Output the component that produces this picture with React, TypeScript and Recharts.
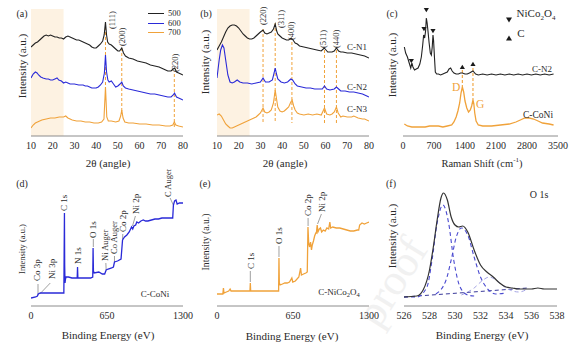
import React from "react";
import { LineChart, Line, XAxis, YAxis, ReferenceArea, ReferenceLine, ReferenceDot } from "recharts";

const FONT = '"Liberation Serif", "DejaVu Serif", serif';
const FRAME = "#8c8c8c";
const TEXT = "#2a2a2a";
const BLACK = "#222";
const BLUE = "#2a2ad8";
const ORANGE = "#f0a23a";
const SHADE = "#fdf2e2";

// (a) XRD, 2θ vs intensity (a.u.)
const xrd500 = [[10,88],[11,90],[12,92],[13,93],[14,95],[15,97],[16,99],[17,100],[18,99],[19,100],[20,99],[21,98],[22,98],[23,97],[24,97],[25,96],[26,98],[27,99],[28,98],[29,97],[30,96],[31,95],[32,95],[33,94],[34,93],[35,92],[36,91],[37,90],[38,88],[39,87],[40,87],[41,89],[42,91],[43,94],[43.7,100],[44.3,113],[44.8,100],[45.3,93],[46,91],[47,90],[48,88],[49,86],[50,84],[50.8,84],[51.8,87],[52.6,82],[53.5,79],[55,77],[57,76],[59,74],[61,73],[63,72],[65,70],[67,69],[69,68],[71,66],[73,64],[74.5,64],[75.5,66],[76.2,67],[77,63],[78,62],[79,61],[80,60]];
const xrd600 = [[10,57],[11,61],[12,63],[12.8,62],[13.5,60],[14.5,58],[15.5,57],[17,56],[18,56],[19,55],[20,55],[21,56],[22,57],[22.8,55],[24,54],[25,52],[26,53],[27,52],[28,51],[30,51],[32,50],[34,50],[35,49],[36,49],[37,48],[38,47],[39,47],[40,47],[41,48],[42,50],[43,53],[43.8,62],[44.3,80],[44.8,63],[45.4,55],[46,53],[47,54],[48,51],[49,48],[50,49],[51,51],[51.8,53],[52.5,49],[53.5,47],[55,46],[57,45],[59,44],[61,43],[63,42],[65,41],[67,41],[69,40],[71,39],[73,38],[74.5,38],[75.5,40],[76.1,42],[77,38],[78,37],[79,36],[80,35]];
const xrd700 = [[10,7],[11,10],[12,12],[13,13],[14,14],[15,15],[17,16],[19,17],[21,17],[23,18],[25,18],[26,19],[27,17],[29,15],[31,14],[33,14],[35,13],[37,13],[39,12],[41,12],[42.5,13],[43.6,16],[44.3,48],[44.9,18],[45.6,14],[47,14],[49,13],[50.5,14],[51.3,19],[51.8,25],[52.4,17],[53.2,13],[55,12],[57,12],[60,11],[63,11],[66,10],[69,10],[72,9],[74,9],[75.3,10],[76,13],[76.7,10],[78,9],[80,8]];
const xrdATicks = [10, 20, 30, 40, 50, 60, 70, 80];
const xrdAPeaks = [
  { x: 44.3, top: 113, bottom: 48, lx: 47.3, ly: 106, t: "(111)" },
  { x: 51.8, top: 87, bottom: 22, lx: 51.8, ly: 89, t: "(200)" },
  { x: 76, top: 61, bottom: 8, lx: 76.3, ly: 63, t: "(220)" },
];

// (b) XRD of C-N1 / C-N2 / C-N3
const cn1 = [[10,85],[11,89],[12,93],[13,98],[14,103],[15,107],[16,109],[17,110],[18,110],[19,109],[20,107],[21,104],[22,101],[23,99],[24,97],[25,96],[26,96],[27,97],[28,99],[29,101],[30,103],[31.2,105],[32,102],[33,101],[34,102],[35,103],[36,106],[36.8,111],[37.5,104],[38,101],[39,99],[40,97],[41,96],[42,95],[43,95],[44.2,97],[45,95],[46,92],[47,91],[48,89],[50,88],[52,87],[54,86],[56,85],[58,84],[59.4,87],[60.2,85],[61,83],[62,83],[63,83],[64,84],[65,87],[66,84],[67,83],[68,83],[70,82],[72,82],[74,81],[76,80],[78,79],[80,77]];
const cn2 = [[10,57],[10.5,66],[11,75],[11.7,85],[12.5,90],[13.2,87],[14,75],[15,60],[16,53],[17,52],[18,53],[19.3,55],[20.5,53],[22,52],[24,52],[26,51],[28,52],[30,53],[31.2,57],[32.3,53],[34,53],[35.5,55],[36.3,62],[36.8,67],[37.4,61],[38,56],[39.5,53],[41,52],[42.5,53],[44,56],[44.8,55],[46,51],[47,49],[49,48],[51,47],[53,47],[55,46],[57,46],[58.5,46],[59.5,49],[60.5,46],[62,45],[64,46],[65,48],[66,46],[67,44],[69,44],[71,43],[73,43],[75,42],[77,41],[79,39],[80,38]];
const cn3 = [[10,20],[11,21],[12,19],[13,15],[14,11],[15,9],[16,7],[17,7],[18,8],[19,9],[20,10],[21,11],[22,12],[23,13],[24,14],[25,15],[26,16],[27,17],[28,18],[29,20],[30,22],[31.2,27],[32,23],[33,22],[34,23],[35,25],[36,32],[36.8,45],[37.5,35],[38,28],[39,24],[40,23],[41,24],[42,26],[43,28],[44,33],[44.6,35],[45.3,29],[46,25],[47,22],[48,21],[50,20],[52,21],[54,20],[56,21],[58,20],[59.5,27],[60.5,21],[62,20],[63,21],[64,23],[65,28],[65.8,22],[67,18],[68,19],[70,18],[72,18],[73,19],[75,17],[77,16],[78,16],[80,14]];
const xrdBPeaks = [
  { x: 31.2, top: 106, bottom: 12, lx: 31.2, ly: 110, t: "(220)" },
  { x: 36.8, top: 112, bottom: 12, lx: 39.6, ly: 107, t: "(311)" },
  { x: 44.5, top: 93, bottom: 12, lx: 44.3, ly: 95, t: "(400)" },
  { x: 59.5, top: 85, bottom: 12, lx: 58.8, ly: 87, t: "(511)" },
  { x: 65, top: 85, bottom: 12, lx: 64.8, ly: 87, t: "(440)" },
];
const xrdBNames = [
  { x: 74.5, y: 88, t: "C-N1" },
  { x: 74.5, y: 48, t: "C-N2" },
  { x: 74.5, y: 26, t: "C-N3" },
];

// (c) Raman
const ramanN2 = [[30,88],[60,82],[100,78],[140,72],[175,67],[200,72],[225,68],[260,65],[300,66],[340,67],[380,71],[414,78],[445,90],[466,100],[489,97],[510,104],[527,117],[545,112],[564,104],[590,92],[617,82],[640,80],[660,88],[677,100],[690,95],[710,78],[730,63],[760,61],[800,61],[850,60],[900,61],[950,62],[1000,63],[1040,66],[1076,67],[1110,64],[1150,62],[1200,61],[1250,61],[1300,62],[1340,62],[1400,61],[1450,61],[1500,62],[1580,64],[1640,61],[1700,60],[1800,61],[1900,60],[2000,61],[2100,60],[2200,61],[2300,60],[2400,61],[2500,60],[2600,61],[2700,60],[2800,61],[2900,60],[3000,61],[3100,60],[3200,61],[3300,60],[3400,61]];
const ramanCoNi = [[30,11],[100,9],[200,8],[300,8],[400,8],[500,8],[600,9],[700,9],[800,9],[900,8],[1000,9],[1100,10],[1150,13],[1200,18],[1240,24],[1280,32],[1310,42],[1340,48],[1370,43],[1400,34],[1440,27],[1480,23],[1520,25],[1550,29],[1580,35],[1600,31],[1620,22],[1650,14],[1700,10],[1800,9],[1900,9],[2000,9],[2200,10],[2400,11],[2550,13],[2650,15],[2750,17],[2850,17],[2950,16],[3050,14],[3150,12],[3300,11],[3400,10]];
const ramanTicks = [0, 700, 1400, 2100, 2800, 3500];
const spinelMarks = [[188, 74], [474, 106], [527, 125], [677, 104]];
const carbonMarks = [[1340, 68], [1580, 71]];
const ramanGuides = [{ x: 1340, top: 65, bottom: 48 }, { x: 1580, top: 67, bottom: 35 }];

// (d) XPS survey C-CoNi
const xpsCoNi = [[0,7],[40,8],[55,9],[62,11],[80,12],[110,12],[150,12],[200,12],[250,12],[281,12],[284,60],[286,92],[288,40],[291,22],[295,26],[300,28],[320,28],[350,27],[380,27],[395,27],[398,38],[401,27],[430,27],[470,27],[510,27],[528,28],[531,57],[534,34],[540,32],[580,33],[610,31],[630,31],[643,35],[660,36],[690,37],[705,38],[714,43],[740,44],[770,46],[783,65],[800,68],[820,70],[840,73],[860,78],[870,76],[880,79],[895,80],[905,83],[920,82],[940,84],[960,85],[980,84],[1000,84],[1030,85],[1060,86],[1090,86],[1120,87],[1150,87],[1180,87],[1212,87],[1218,100],[1228,104],[1240,105],[1250,101],[1270,102],[1290,102],[1300,102]];
const xpsDTags = [
  { x: 50, y: 24, t: "Co 3p" },
  { x: 178, y: 26, t: "Ni 3p" },
  { x: 286, y: 94, t: "C 1s" },
  { x: 398, y: 41, t: "N 1s" },
  { x: 533, y: 67, t: "O 1s" },
  { x: 629, y: 44, t: "Ni Auger" },
  { x: 709, y: 51, t: "Co Auger" },
  { x: 788, y: 73, t: "Co 2p" },
  { x: 900, y: 91, t: "Ni 2p" },
  { x: 1170, y: 108, t: "C Auger" },
];
const xpsDLeaders = [
  [[60, 21], [60, 10]],
  [[165, 22], [75, 11]],
  [[533, 66], [533, 58]],
  [[640, 42], [643, 35]],
  [[714, 49], [714, 43]],
  [[785, 71], [783, 66]],
  [[893, 89], [868, 79]],
  [[1190, 107], [1217, 100]],
];

// (e) XPS survey C-NiCo2O4
const xpsNiCo = [[0,11],[30,11],[50,11],[55,17],[60,12],[80,13],[100,14],[112,16],[120,14],[150,14],[200,14],[250,14],[282,14],[285,22],[288,14],[350,14],[400,14],[450,14],[500,14],[527,14],[530,47],[533,22],[540,20],[560,21],[580,22],[600,22],[620,23],[640,27],[648,23],[670,24],[700,28],[715,37],[722,30],[740,31],[760,32],[772,33],[778,78],[784,62],[792,58],[800,63],[808,55],[815,60],[825,64],[835,69],[845,72],[850,72],[857,80],[863,73],[875,76],[885,77],[895,73],[910,75],[925,74],[940,77],[955,76],[965,83],[972,77],[990,78],[1020,77],[1050,77],[1080,76],[1110,75],[1140,74],[1170,74],[1200,75],[1212,75],[1220,80],[1240,82],[1260,81],[1280,82],[1300,83]];
const xpsTicks = [0, 650, 1300];
const xpsETags = [
  { x: 287, y: 36, t: "C 1s" },
  { x: 530, y: 61, t: "O 1s" },
  { x: 779, y: 89, t: "Co 2p" },
  { x: 900, y: 93, t: "Ni 2p" },
];
const xpsELeaders = [
  [[285, 34], [285, 23]],
  [[530, 59], [530, 48]],
  [[779, 87], [779, 79]],
  [[893, 91], [860, 81]],
];

// (f) O 1s high resolution
const o1sEnv = [[526,8],[527,9],[527.5,15],[528,35],[528.3,58],[528.6,85],[528.9,107],[529.1,112],[529.4,105],[529.7,88],[530,80],[530.3,78],[530.6,79],[531,73],[531.5,55],[532,40],[532.5,33],[533,28],[533.5,22],[534,18],[534.5,17],[535,16],[536,16],[536.5,17],[537,16],[538,16]];
const o1sP1 = [[526,8],[527,8],[527.8,18],[528.2,45],[528.6,82],[529.05,100],[529.5,82],[529.9,45],[530.4,18],[531,10],[531.5,9]];
const o1sP2 = [[528.5,11],[529.3,25],[529.7,45],[530.1,68],[530.5,77],[531,70],[531.5,48],[532,28],[532.5,17],[533.2,11],[534,12]];
const o1sP3 = [[530.5,10],[531.5,17],[532.2,25],[532.7,28],[533.2,25],[534,17],[535,13],[535.7,16]];
const o1sBase = [[526,8],[535.7,17]];
const o1sTicks = [526, 528, 530, 532, 534, 536, 538];

const pts = (a: number[][]) => a.map(([x, y]) => ({ x, y }));

function Tag(props: any) {
  const { viewBox, txt, size = 9, color = TEXT, rot = -90, anchor = "start" } = props;
  const x = viewBox.x + (viewBox.width || 0) / 2;
  const y = viewBox.y + (viewBox.height || 0) / 2;
  return (
    <text
      x={x}
      y={y}
      transform={rot ? `rotate(${rot} ${x} ${y})` : undefined}
      textAnchor={anchor}
      dominantBaseline="central"
      fontSize={size}
      fontFamily={FONT}
      fill={color}
    >
      {txt}
    </text>
  );
}

const tri = (down: boolean) => (p: any) => {
  const { cx, cy } = p;
  const d = down
    ? `M${cx - 2.6},${cy - 2} L${cx + 2.6},${cy - 2} L${cx},${cy + 2.2} Z`
    : `M${cx - 2.6},${cy + 2} L${cx + 2.6},${cy + 2} L${cx},${cy - 2.2} Z`;
  return <path d={d} fill="#1a1a1a" />;
};

function series(key: string, data: number[][], color: string, w = 1.1, dash?: string, type: any = "linear") {
  return (
    <Line
      key={key}
      data={pts(data)}
      dataKey="y"
      type={type}
      stroke={color}
      strokeWidth={w}
      strokeDasharray={dash}
      dot={false}
      activeDot={false}
      isAnimationActive={false}
    />
  );
}

function tag(key: string, x: number, y: number, txt: any, opts: any = {}) {
  return (
    <ReferenceDot
      key={key}
      x={x}
      y={y}
      r={0}
      fill="none"
      stroke="none"
      ifOverflow="visible"
      label={<Tag txt={txt} {...opts} />}
    />
  );
}

function seg(key: string, a: number[], b: number[], color = "#777", dash?: string, w = 0.7) {
  return (
    <ReferenceLine
      key={key}
      segment={[{ x: a[0], y: a[1] }, { x: b[0], y: b[1] }]}
      stroke={color}
      strokeWidth={w}
      strokeDasharray={dash}
      ifOverflow="visible"
    />
  );
}

const ML = 22, MR = 22, MT = 10, AXH = 26;

function Panel({ fl, ft, w, h, domain, ticks, children }: any) {
  const tickStyle = { fill: TEXT, fontSize: 10, fontFamily: FONT };
  return (
    <div style={{ position: "absolute", left: fl - ML, top: ft - MT }}>
      <LineChart width={w + ML + MR} height={h + MT + AXH} margin={{ top: MT, right: MR, bottom: 0, left: ML }}>
        <XAxis
          dataKey="x"
          type="number"
          domain={domain}
          ticks={ticks}
          interval={0}
          allowDataOverflow
          height={AXH}
          tickLine={false}
          tickSize={3}
          tickMargin={3}
          axisLine={{ stroke: FRAME }}
          tick={tickStyle}
        />
        <XAxis xAxisId="top" orientation="top" type="number" domain={domain} height={0} tick={false} tickLine={false} axisLine={{ stroke: FRAME }} />
        <YAxis type="number" domain={[-1, 126]} allowDataOverflow width={0} tick={false} tickLine={false} axisLine={{ stroke: FRAME }} />
        <YAxis yAxisId="right" orientation="right" type="number" domain={[-1, 126]} width={0} tick={false} tickLine={false} axisLine={{ stroke: FRAME }} />
        {children}
      </LineChart>
    </div>
  );
}

function Txt({ x, y, size = 11, rot = 0, children, color = TEXT, weight = 400 }: any) {
  return (
    <div
      style={{
        position: "absolute",
        left: x,
        top: y,
        transform: `translate(-50%, -50%)${rot ? ` rotate(${rot}deg)` : ""}`,
        fontFamily: FONT,
        fontSize: size,
        color,
        fontWeight: weight,
        whiteSpace: "nowrap",
        lineHeight: 1,
      }}
    >
      {children}
    </div>
  );
}

function LegendLine({ x, y, color, label }: any) {
  return (
    <div style={{ position: "absolute", left: x, top: y - 5, display: "flex", alignItems: "center", fontFamily: FONT, fontSize: 8.5, color: TEXT, lineHeight: 1 }}>
      <span style={{ display: "inline-block", width: 16, height: 1.5, background: color, marginRight: 4 }} />
      <span>{label}</span>
    </div>
  );
}

export default function App() {
  return (
    <div style={{ position: "absolute", left: 0, top: 0, width: 576, height: 351, background: "#fff", overflow: "hidden" }}>
      {/* watermark */}
      <Txt x={392} y={282} size={44} rot={-58} color="#f1f1f1">proof</Txt>

      {/* (a) */}
      <Panel fl={31} ft={9} w={152} h={127} domain={[10, 80]} ticks={xrdATicks}>
        <ReferenceArea x1={10} x2={25} y1={-1} y2={126} fill={SHADE} fillOpacity={1} stroke="none" />
        {xrdAPeaks.map((p, i) => seg(`ag${i}`, [p.x, p.top], [p.x, p.bottom], ORANGE, "3 2", 1))}
        {series("a1", xrd500, BLACK)}
        {series("a2", xrd600, BLUE)}
        {series("a3", xrd700, ORANGE)}
        {xrdAPeaks.map((p, i) => tag(`at${i}`, p.lx, p.ly, p.t, { size: 8.5 }))}
      </Panel>

      {/* (b) */}
      <Panel fl={217} ft={9} w={152} h={127} domain={[10, 80]} ticks={xrdATicks}>
        <ReferenceArea x1={10} x2={25} y1={-1} y2={126} fill={SHADE} fillOpacity={1} stroke="none" />
        {xrdBPeaks.map((p, i) => seg(`bg${i}`, [p.x, p.top], [p.x, p.bottom], ORANGE, "3 2", 1))}
        {series("b1", cn1, BLACK)}
        {series("b2", cn2, BLUE)}
        {series("b3", cn3, ORANGE)}
        {xrdBPeaks.map((p, i) => tag(`bt${i}`, p.lx, p.ly, p.t, { size: 8.5 }))}
        {xrdBNames.map((p, i) => tag(`bn${i}`, p.x, p.y, p.t, { size: 9, rot: 0, anchor: "middle" }))}
      </Panel>

      {/* (c) */}
      <Panel fl={403} ft={9} w={155} h={127} domain={[0, 3500]} ticks={ramanTicks}>
        {ramanGuides.map((p, i) => seg(`cg${i}`, [p.x, p.top], [p.x, p.bottom], ORANGE, "3 2", 1.1))}
        {series("c1", ramanN2, BLACK)}
        {series("c2", ramanCoNi, ORANGE, 1.3)}
        {spinelMarks.map((m, i) => (
          <ReferenceDot key={`sm${i}`} x={m[0]} y={m[1]} r={2} ifOverflow="visible" shape={tri(true)} />
        ))}
        {carbonMarks.map((m, i) => (
          <ReferenceDot key={`cm${i}`} x={m[0]} y={m[1]} r={2} ifOverflow="visible" shape={tri(false)} />
        ))}
        {tag("cn1", 3140, 66, "C-N2", { size: 9, rot: 0, anchor: "middle" })}
        {tag("cn2", 3050, 20, "C-CoNi", { size: 9.5, rot: 0, anchor: "middle" })}
        {tag("cD", 1200, 48, "D", { size: 11.5, rot: 0, anchor: "middle", color: ORANGE })}
        {tag("cG", 1740, 31, "G", { size: 11.5, rot: 0, anchor: "middle", color: ORANGE })}
      </Panel>
      <div style={{ position: "absolute", left: 505, top: 10, width: 8, height: 8 }}>
        <svg width={8} height={8}><path d="M1,1.5 L7,1.5 L4,6.5 Z" fill="#1a1a1a" /></svg>
      </div>
      <Txt x={536} y={15} size={11}>NiCo<sub style={{ fontSize: 7 }}>2</sub>O<sub style={{ fontSize: 7 }}>4</sub></Txt>
      <div style={{ position: "absolute", left: 505, top: 28, width: 8, height: 8 }}>
        <svg width={8} height={8}><path d="M1,6.5 L7,6.5 L4,1.5 Z" fill="#1a1a1a" /></svg>
      </div>
      <Txt x={521} y={33} size={11}>C</Txt>

      {/* (d) */}
      <Panel fl={31} ft={179} w={152} h={127} domain={[0, 1300]} ticks={xpsTicks}>
        {xpsDLeaders.map((l, i) => seg(`dl${i}`, l[0], l[1]))}
        {series("d1", xpsCoNi, BLUE, 1.3)}
        {xpsDTags.map((p, i) => tag(`dt${i}`, p.x, p.y, p.t, { size: p.t.includes("Auger") ? 8.5 : 9 }))}
        {tag("dn", 1060, 11, "C-CoNi", { size: 9, rot: 0, anchor: "middle" })}
      </Panel>

      {/* (e) */}
      <Panel fl={217} ft={179} w={152} h={127} domain={[0, 1300]} ticks={xpsTicks}>
        {xpsELeaders.map((l, i) => seg(`el${i}`, l[0], l[1]))}
        {series("e1", xpsNiCo, ORANGE, 1.3)}
        {xpsETags.map((p, i) => tag(`et${i}`, p.x, p.y, p.t, { size: 9 }))}
        {tag("en", 1043, 13, (
          <>
            C-NiCo<tspan fontSize={6.5} dy={2}>2</tspan>
            <tspan dy={-2}>O</tspan>
            <tspan fontSize={6.5} dy={2}>4</tspan>
          </>
        ), { size: 9, rot: 0, anchor: "middle" })}
      </Panel>

      {/* (f) */}
      <Panel fl={404} ft={179} w={153} h={127} domain={[526, 538]} ticks={o1sTicks}>
        {series("f0", o1sBase, "#3a3a9a", 1, "4 3")}
        {series("f3", o1sP3, "#9a9ae0", 0.9, "4 3", "monotone")}
        {series("f2", o1sP2, "#4a4ad0", 1.1, "4 3", "monotone")}
        {series("f1", o1sP1, "#4a4ad0", 1.1, "4 3", "monotone")}
        {series("f4", o1sEnv, "#333", 1.2, undefined, "monotone")}
        {tag("fo", 536.6, 111, "O 1s", { size: 10, rot: 0, anchor: "middle" })}
      </Panel>

      {/* panel letters */}
      <Txt x={22} y={14} size={10}>(a)</Txt>
      <Txt x={206} y={14} size={10}>(b)</Txt>
      <Txt x={392} y={14} size={10}>(c)</Txt>
      <Txt x={22} y={184} size={10}>(d)</Txt>
      <Txt x={205} y={184} size={10}>(e)</Txt>
      <Txt x={391} y={184} size={10}>(f)</Txt>

      {/* y titles */}
      <Txt x={22} y={66} size={11} rot={-90}>Intensity (a.u.)</Txt>
      <Txt x={205} y={62} size={11} rot={-90}>Intensity (a.u.)</Txt>
      <Txt x={392} y={65} size={11} rot={-90}>Intensity (a.u.)</Txt>
      <Txt x={22} y={249} size={8.5} rot={-90}>Intensity (a.u.)</Txt>
      <Txt x={206} y={242} size={9.7} rot={-90}>Intensity (a.u.)</Txt>
      <Txt x={392} y={236} size={11} rot={-90}>Intensity (a.u.)</Txt>

      {/* x titles */}
      <Txt x={108} y={163} size={11}>2θ (angle)</Txt>
      <Txt x={285} y={163} size={11}>2θ (angle)</Txt>
      <Txt x={482} y={163} size={10.5}>Raman Shift (cm<sup style={{ fontSize: 7 }}>-1</sup>)</Txt>
      <Txt x={108} y={335} size={11}>Binding Energy (eV)</Txt>
      <Txt x={292} y={336} size={11}>Binding Energy (eV)</Txt>
      <Txt x={482} y={335} size={11}>Binding Energy (eV)</Txt>

      {/* legend (a) */}
      <LegendLine x={148} y={14} color={BLACK} label="500" />
      <LegendLine x={148} y={24} color={BLUE} label="600" />
      <LegendLine x={148} y={33} color={ORANGE} label="700" />
    </div>
  );
}
